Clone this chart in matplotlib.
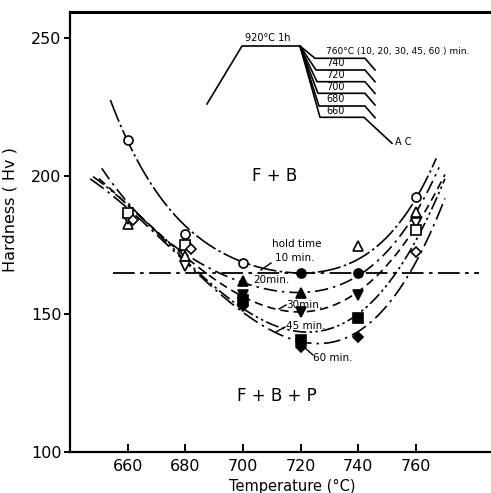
import numpy as np
import matplotlib
matplotlib.use("Agg")
import matplotlib.pyplot as plt
from matplotlib.lines import Line2D

# ---------------- data ----------------
hold_labels = ["10 min.", "20min.", "30min.", "45 min.", "60 min."]
markers = ["o", "^", "v", "s", "D"]

t10 = [660, 680, 700, 720, 740, 760]
h10 = [213, 179, 168.5, 165, 165, 192.5]
t20 = [660, 680, 700, 720, 740, 760]
h20 = [182.5, 171, 162, 157.5, 174.5, 187]
t30 = [660, 680, 700, 720, 740, 760]
h30 = [184.5, 167.5, 157, 150.7, 157, 183]
t45 = [660, 680, 700, 720, 740, 760]
h45 = [186.5, 175, 155, 140.6, 148.5, 180.5]
t60 = [662, 682, 700, 720, 740, 760]
h60 = [184, 173.5, 153, 138, 141.7, 172.5]

# trend curves (temperature, hardness)
c10_t = [654, 661, 674, 686, 700, 720, 740, 760, 767]
c10_h = [228, 209.5, 189, 177, 168.5, 165, 169.5, 192.5, 206]
c20_t = [651, 660, 680, 700, 720, 740, 760, 768]
c20_h = [203, 190, 172, 161.5, 157.5, 164, 187, 203]
c30_t = [650, 662, 680, 700, 720, 740, 760, 770]
c30_h = [199, 188, 170, 157, 151, 157, 183, 200]
c45_t = [648, 660, 680, 700, 720, 740, 760, 770]
c45_h = [201, 187, 170, 155, 141, 148.5, 180.5, 197]
c60_t = [647, 660, 680, 700, 720, 740, 760, 770]
c60_h = [200, 186, 169.5, 153, 138, 142, 172.5, 190]

boundary_hv = 165
boundary_t = [655, 782]

xticks = [660, 680, 700, 720, 740, 760]
yticks = [100, 150, 200, 250]

series_t = [t10, t20, t30, t45, t60]
series_h = [h10, h20, h30, h45, h60]
curves_t = [c10_t, c20_t, c30_t, c45_t, c60_t]
curves_h = [c10_h, c20_h, c30_h, c45_h, c60_h]
styles = [(0, (14, 2, 1.5, 2)), (0, (8, 3, 1.5, 3)), (0, (5, 3)),
          (0, (8, 2, 1.5, 2, 1.5, 2)), (0, (10, 3, 1.5, 3))]

plt.rcParams['font.family'] = ['DejaVu Sans']

W, H = 491, 493
fig = plt.figure(figsize=(W / 100, H / 100), dpi=100)
ax = fig.add_axes([70 / W, 1 - 452 / H, (W - 70) / W, (452 - 12) / H])
ax.set_xlim(640, 786)
ax.set_ylim(100, 259.4)

def px(x, y):
    return (x / W, 1 - y / H)

# curves
for ct, ch, ls in zip(curves_t, curves_h, styles):
    ct = np.array(ct, float); ch = np.array(ch, float)
    p = np.polyfit(ct - 710, ch, 4)
    xs = np.linspace(ct[0], ct[-1], 300)
    ax.plot(xs, np.polyval(p, xs - 710), color="black", lw=1.2, linestyle=ls)

# boundary line
ax.plot(boundary_t, [boundary_hv, boundary_hv], color="black", lw=1.3,
        linestyle=(0, (12, 3, 2, 3)))

# markers
for tt, hh, m in zip(series_t, series_h, markers):
    for t, h in zip(tt, hh):
        filled = h <= boundary_hv + 0.5
        ms = 6.5 if m in ("o", "s") else 7
        if m == "D":
            ms = 5.5
        ax.plot([t], [h], marker=m, ms=ms, mec="black", mew=1.2,
                mfc="black" if filled else "white", linestyle="none", zorder=5)

# axes styling
ax.spines["right"].set_visible(False)
ax.spines["top"].set_linewidth(2.2)
ax.spines["left"].set_linewidth(1.6)
ax.spines["bottom"].set_linewidth(1.6)
ax.set_xticks(xticks)
ax.set_yticks(yticks)
ax.tick_params(axis="x", direction="in", length=6, width=1.4, labelsize=11.5, pad=5)
ax.tick_params(axis="y", direction="out", length=4, width=1.4, labelsize=11.5, pad=2)
ax.set_xlabel("Temperature (°C)", fontsize=10.5)
ax.xaxis.set_label_coords(0.527, -0.062)
ax.set_ylabel("Hardness ( Hv )", fontsize=11.5)
ax.yaxis.set_label_coords(-0.124, 0.55)

# region labels
fig.text(*px(275, 176), "F + B", fontsize=12, ha="center", va="center")
fig.text(*px(277, 396), "F + B + P", fontsize=12, ha="center", va="center")

# hold time labels
fs = 7.5
fig.text(*px(297, 244), "hold time", fontsize=fs, ha="center", va="center")
fig.text(*px(275, 258), "10 min.", fontsize=fs, ha="left", va="center")
fig.text(*px(253, 280), "20min.", fontsize=fs, ha="left", va="center")
fig.text(*px(286, 305), "30min.", fontsize=fs, ha="left", va="center")
fig.text(*px(286, 326), "45 min.", fontsize=fs, ha="left", va="center")
fig.text(*px(313, 358), "60 min.", fontsize=fs, ha="left", va="center")
for (x0, y0), (x1, y1) in [((271, 263), (261, 270)), ((279, 309), (286, 305)),
                           ((276, 332), (285, 327)), ((305, 348), (313, 355))]:
    fig.add_artist(Line2D([x0 / W, x1 / W], [1 - y0 / H, 1 - y1 / H],
                          color="black", lw=1.0))

# heat treatment schematic
def seg(pts, lw=1.2):
    xs = [p[0] / W for p in pts]
    ys = [1 - p[1] / H for p in pts]
    fig.add_artist(Line2D(xs, ys, color="black", lw=lw))

seg([(207, 104), (242, 46), (300, 46)])
fig.text(*px(268, 38), "920°C 1h", fontsize=7, ha="center", va="center")
steps = [("760°C (10, 20, 30, 45, 60 ) min.", 58.3), ("740", 70), ("720", 81.7),
         ("700", 93.3), ("680", 106), ("660", 117.3)]
for i, (lab, y) in enumerate(steps):
    x0 = 315 + i * 1.0
    if i == len(steps) - 1:
        seg([(300, 46), (x0, y), (364, y), (392, 143.3)])
    else:
        seg([(300, 46), (x0, y), (365, y), (375, y + 11.7)])
    fig.text(*px(326, y - 6.5), lab, fontsize=6.5 if i == 0 else 7,
             ha="left", va="center")
fig.text(*px(395, 142), "A C", fontsize=7, ha="left", va="center")

fig.savefig("out.png", dpi=100)
